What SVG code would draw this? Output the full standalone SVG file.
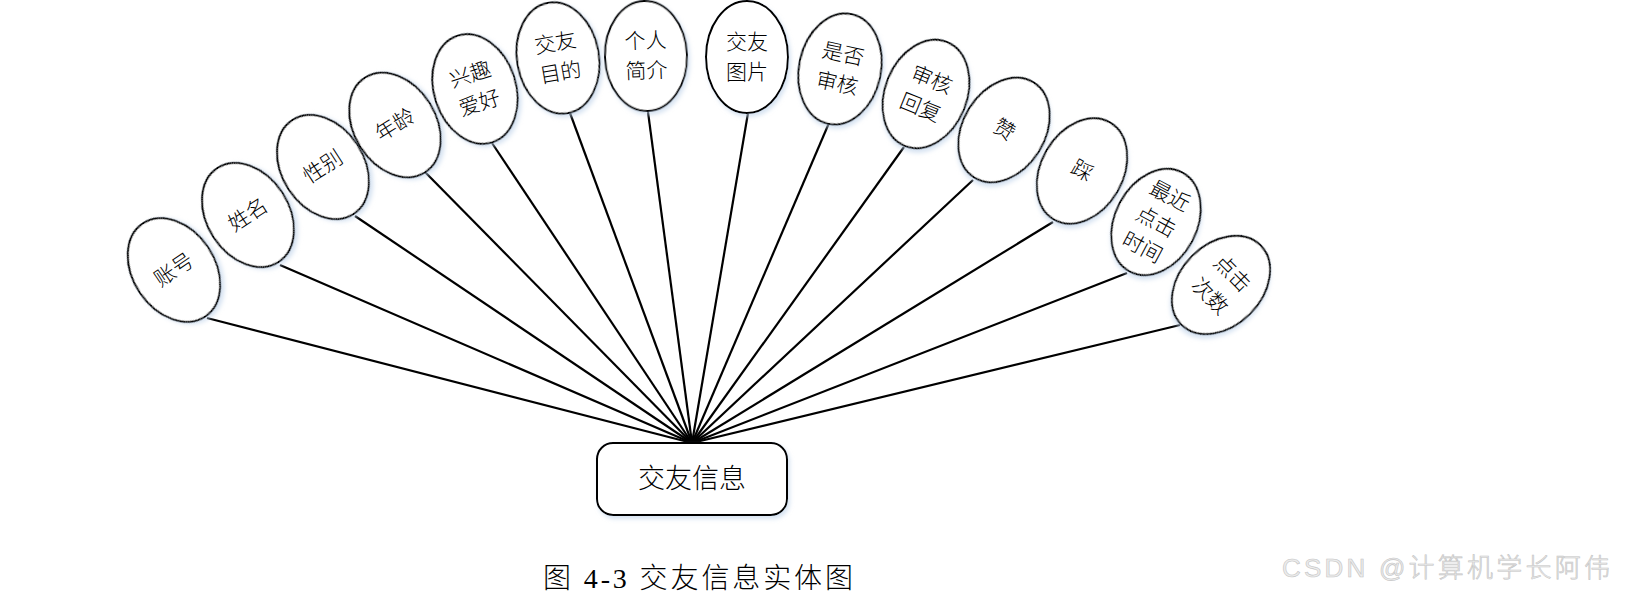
<svg xmlns="http://www.w3.org/2000/svg" width="1625" height="607" viewBox="0 0 1625 607">
<style>
  .conn line { stroke:#000; stroke-width:2.2; }
  .attr ellipse { fill:#fff; stroke:#000; stroke-width:2; filter:url(#sh); }
  .attr text, .ent text { font-family:"Liberation Serif","Noto Sans CJK SC",serif; font-weight:300; font-size:21px; fill:#000; text-anchor:middle; dominant-baseline:central; }
  .ent rect { fill:#fff; stroke:#000; stroke-width:2; filter:url(#sh); }
  .ent text { font-size:27px; }
  .cap { font-family:"Liberation Serif","Noto Sans CJK SC",serif; font-weight:300; font-size:28px; fill:#000; }
  .wm { font-family:"Liberation Sans","Noto Sans CJK SC",sans-serif; font-weight:300; font-size:26px; fill:#ececec; stroke:#c4c4c4; stroke-width:0.6; }
</style>
<defs>
  <filter id="sh" x="-20%" y="-20%" width="140%" height="140%">
    <feDropShadow dx="2" dy="3" stdDeviation="2" flood-color="#bcd0e8" flood-opacity="0.6"/>
  </filter>
</defs>
<rect width="1625" height="607" fill="#fff"/>
<g id="connectors" class="conn">
  <line x1="692" y1="443" x2="207" y2="318"/>
  <line x1="692" y1="443" x2="280" y2="265"/>
  <line x1="692" y1="443" x2="355" y2="216"/>
  <line x1="692" y1="443" x2="425" y2="172"/>
  <line x1="692" y1="443" x2="492" y2="143"/>
  <line x1="692" y1="443" x2="570" y2="113"/>
  <line x1="692" y1="443" x2="648" y2="112"/>
  <line x1="692" y1="443" x2="748" y2="113"/>
  <line x1="692" y1="443" x2="829" y2="123"/>
  <line x1="692" y1="443" x2="904" y2="147"/>
  <line x1="692" y1="443" x2="973" y2="180"/>
  <line x1="692" y1="443" x2="1053" y2="222"/>
  <line x1="692" y1="443" x2="1127" y2="273"/>
  <line x1="692" y1="443" x2="1180" y2="325"/>
</g>
<g id="n1" class="attr" transform="translate(174,270) rotate(-34)"><ellipse rx="41" ry="56"/><text>账号</text></g>
<g id="n2" class="attr" transform="translate(248,215) rotate(-33)"><ellipse rx="41" ry="56"/><text>姓名</text></g>
<g id="n3" class="attr" transform="translate(323,167) rotate(-33)"><ellipse rx="41" ry="56"/><text>性别</text></g>
<g id="n4" class="attr" transform="translate(395,125) rotate(-32)"><ellipse rx="41" ry="56"/><text>年龄</text></g>
<g id="n5" class="attr" transform="translate(475,89) rotate(-18)"><ellipse rx="41" ry="56"/><text y="-15">兴趣</text><text y="15">爱好</text></g>
<g id="n6" class="attr" transform="translate(558,58) rotate(-10)"><ellipse rx="41" ry="56"/><text y="-15">交友</text><text y="15">目的</text></g>
<g id="n7" class="attr" transform="translate(646,56) rotate(-2)"><ellipse rx="41" ry="55"/><text y="-15">个人</text><text y="15">简介</text></g>
<g id="n8" class="attr" transform="translate(747,57)"><ellipse rx="41" ry="56"/><text y="-15">交友</text><text y="15">图片</text></g>
<g id="n9" class="attr" transform="translate(840,69) rotate(12)"><ellipse rx="41" ry="56"/><text y="-15">是否</text><text y="15">审核</text></g>
<g id="n10" class="attr" transform="translate(926,94) rotate(22)"><ellipse rx="41" ry="56"/><text y="-15">审核</text><text y="15">回复</text></g>
<g id="n11" class="attr" transform="translate(1004,130) rotate(32)"><ellipse rx="41" ry="56"/><text>赞</text></g>
<g id="n12" class="attr" transform="translate(1082,171) rotate(30)"><ellipse rx="41" ry="56"/><text>踩</text></g>
<g id="n13" class="attr" transform="translate(1156,222) rotate(28)"><ellipse rx="41" ry="56"/><text y="-29">最近</text><text y="0">点击</text><text y="29">时间</text></g>
<g id="n14" class="attr" transform="translate(1221,285) rotate(45)"><ellipse rx="41" ry="56"/><text y="-16">点击</text><text y="16">次数</text></g>
<g id="hub" class="ent"><rect x="597" y="443" width="190" height="72" rx="16"/><text x="692" y="479">交友信息</text></g>
<text class="cap" x="543" y="588" textLength="310" lengthAdjust="spacing">图 4-3 交友信息实体图</text>
<text class="wm" x="1282" y="577" textLength="328" lengthAdjust="spacing">CSDN @计算机学长阿伟</text>
</svg>
